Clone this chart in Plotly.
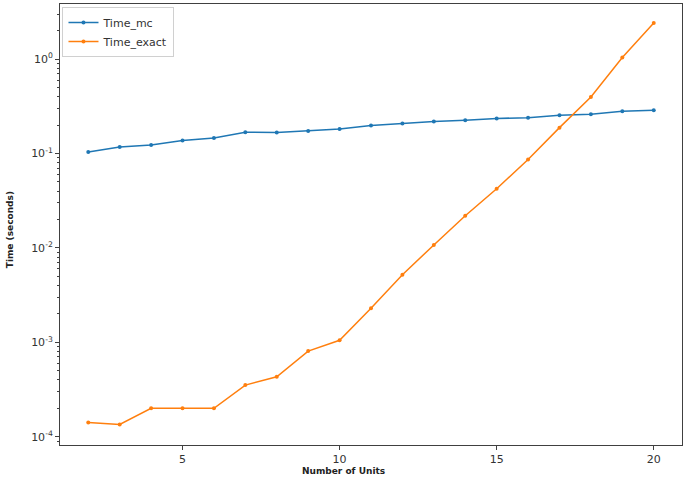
import numpy as np
import plotly.graph_objects as go

# Number of units vs. timing of the two methods
units = list(range(2, 21))
time_mc = [0.104, 0.117, 0.123, 0.137, 0.146, 0.168, 0.167, 0.173, 0.182, 0.198,
           0.208, 0.218, 0.225, 0.235, 0.240, 0.254, 0.261, 0.280, 0.287]
time_exact = [1.41e-4, 1.35e-4, 2.0e-4, 2.0e-4, 2.0e-4, 3.52e-4, 4.31e-4, 8.07e-4, 1.05e-3, 2.29e-3,
              5.2e-3, 1.075e-2, 2.19e-2, 4.23e-2, 8.65e-2, 0.188, 0.397, 1.04, 2.41]

decades = [-4, -3, -2, -1, 0]
tick_text = [f'10<sup>{d}</sup>' for d in decades]
minor_vals = [m * 10.0 ** d for d in range(-5, 1) for m in range(2, 10)]

grey = '#404040'
font = dict(family='DejaVu Sans, sans-serif', size=11, color='#333333')

fig = go.Figure()
fig.add_trace(go.Scatter(
    x=units, y=time_mc, name='Time_mc', mode='lines+markers',
    line=dict(color='#1f77b4', width=1.5), marker=dict(size=4, color='#1f77b4')
))
fig.add_trace(go.Scatter(
    x=units, y=time_exact, name='Time_exact', mode='lines+markers',
    line=dict(color='#ff7f0e', width=1.5), marker=dict(size=4, color='#ff7f0e')
))

fig.update_layout(
    width=685, height=480,
    margin=dict(l=60, r=3, t=4, b=35),
    paper_bgcolor='white', plot_bgcolor='white',
    font=font,
    legend=dict(x=0.004, y=0.993, xanchor='left', yanchor='top',
                bgcolor='rgba(255,255,255,0.8)', bordercolor='#d0d0d0', borderwidth=1,
                font=dict(size=11, color='#333333'), tracegroupgap=0,
                itemwidth=30),
    showlegend=True,
)
fig.update_xaxes(
    range=[1.1, 20.9], tickvals=[5, 10, 15, 20], automargin=False,
    showgrid=False, zeroline=False,
    showline=True, linecolor=grey, linewidth=1, mirror=True,
    ticks='outside', ticklen=4, tickcolor=grey,
    tickfont=dict(size=11, color='#333333'),
)
fig.update_yaxes(
    type='log', range=[-4.088, 0.584], automargin=False,
    tickvals=[10.0 ** d for d in decades], ticktext=tick_text,
    showgrid=False, zeroline=False,
    showline=True, linecolor=grey, linewidth=1, mirror=True,
    ticks='outside', ticklen=4, tickcolor=grey,
    tickfont=dict(size=11, color='#333333'),
    minor=dict(tickvals=minor_vals, ticks='outside', ticklen=2, tickcolor=grey, showgrid=False),
)

# axis titles
fig.add_annotation(text='<b>Number of Units</b>', xref='paper', yref='paper',
                   x=0.455, y=-0.043, xanchor='center', yanchor='top', showarrow=False,
                   font=dict(size=9, color='#222222'))
fig.add_annotation(text='<b>Time (seconds)</b>', xref='paper', yref='paper',
                   x=-0.080, y=0.4875, xanchor='center', yanchor='middle', textangle=-90,
                   showarrow=False, font=dict(size=9, color='#222222'))

# drop the default page margin so the figure sits at the window's corner
fig.write_html('out.html', config={'displayModeBar': False},
               post_script="document.body.style.margin='0';")
